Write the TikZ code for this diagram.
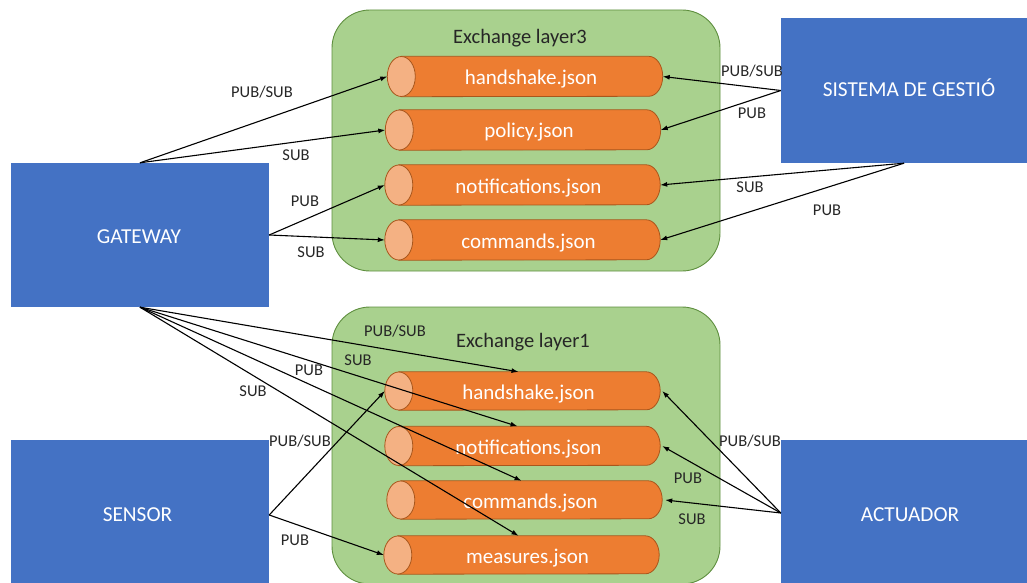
\documentclass[tikz,border=0pt]{standalone}
\usepackage{fontspec}
\setmainfont{Carlito}
\usetikzlibrary{arrows.meta}
\definecolor{boxblue}{HTML}{4472C4}
\definecolor{layergreen}{HTML}{A9D18E}
\definecolor{layeredge}{HTML}{5E8E3E}
\definecolor{topicbody}{HTML}{ED7D31}
\definecolor{topicend}{HTML}{F4B183}
\definecolor{topicedge}{HTML}{A8561C}
\definecolor{labelgray}{HTML}{262626}
\tikzset{
  actor/.style={rectangle, fill=boxblue, draw=none, inner sep=0pt},
  actortext/.style={anchor=base, inner sep=0pt, text=white, font=\fontsize{21.3}{25}\selectfont},
  layer/.style={rectangle, rounded corners=38pt, fill=layergreen, draw=layeredge,
    line width=0.9pt, inner sep=0pt},
  layertitle/.style={anchor=base, inner sep=0pt, font=\fontsize{20.5}{24}\selectfont, text=black!85},
  topicbox/.style={rectangle, minimum width=275pt, inner sep=0pt, draw=none},
  topicline/.style={draw=topicedge, line width=0.8pt},
  topictext/.style={anchor=base, text=white, inner sep=0pt, font=\fontsize{21}{24}\selectfont},
  link/.style={draw=black, line width=1.1pt, -{Latex[length=7pt,width=5pt]}},
  tag/.style={font=\fontsize{16.5}{18}\selectfont, text=labelgray, inner sep=0pt}
}
% a horizontal topic cylinder: name, centre, height, caption
\newcommand\topiccyl[4]{%
  \node[topicbox, minimum height=#3pt] (#1) at (#2) {};
  \fill[topicbody, topicline] ([xshift=14pt]#1.north west) -- ([xshift=-14pt]#1.north east)
     arc[start angle=90, end angle=-90, x radius=14pt, y radius=#3pt/2]
     -- ([xshift=14pt]#1.south west) -- cycle;
  \filldraw[fill=topicend, topicline] ([xshift=14pt]#1.west) ellipse[x radius=14pt, y radius=#3pt/2];
  \node[topictext] (#1-name) at ([xshift=6pt, yshift=-8pt]#1.center) {#4};
}
\begin{document}
\begin{tikzpicture}[x=1pt,y=-1pt]
\useasboundingbox (0,0) rectangle (1027,583);

% exchange layers
\node[layer, minimum width=388pt, minimum height=261pt] (L3) at (526,140.5) {};
\node[layer, minimum width=388pt, minimum height=277pt] (L1) at (526,445.5) {};
\node[layertitle] (L3t) at (520,43.3) {Exchange layer3};
\node[layertitle] (L1t) at (523,347.3) {Exchange layer1};

% topics of layer 3
\topiccyl{hs3}{525,76.5}{40}{handshake.json}
\topiccyl{po3}{523,130}{40}{policy.json}
\topiccyl{no3}{522.5,185}{40}{notifications.json}
\topiccyl{co3}{522.5,240}{40}{commands.json}

% topics of layer 1
\topiccyl{hs1}{522.5,391}{38}{handshake.json}
\topiccyl{no1}{522.5,446}{39}{notifications.json}
\topiccyl{cm1}{524.5,500}{38}{commands.json}
\topiccyl{me1}{521.5,555}{38}{measures.json}

% actors
\node[actor, minimum width=258pt, minimum height=144pt] (gw) at (140,235) {};
\node[actor, minimum width=246pt, minimum height=145pt] (sg) at (904,90.5) {};
\node[actor, minimum width=258pt, minimum height=150pt] (sn) at (140,515) {};
\node[actor, minimum width=246pt, minimum height=146pt] (ac) at (904,513) {};
\node[actortext] (gw-name) at (139,243.3) {GATEWAY};
\node[actortext] (sg-name) at (909,96.7) {SISTEMA DE GESTIÓ};
\node[actortext] (sn-name) at (137.5,521.7) {SENSOR};
\node[actortext] (ac-name) at (910,521.7) {ACTUADOR};

% gateway <-> layer 3
\draw[link] (gw.north) -- (hs3.west);
\draw[link] (gw.north) -- (po3.west);
\draw[link] (gw.east) -- (no3.west);
\draw[link] (gw.east) -- (co3.west);
% management system <-> layer 3
\draw[link] (sg.west) -- (hs3.east);
\draw[link] (sg.west) -- (po3.east);
\draw[link] (sg.south) -- (no3.east);
\draw[link] (sg.south) -- (co3.east);
% gateway <-> layer 1
\draw[link] (gw.south) -- ([xshift=-4pt]hs1.north);
\draw[link] (gw.south) -- ([xshift=-5pt]no1.north);
\draw[link] (gw.south) -- ([xshift=-3pt]cm1.north);
\draw[link] (gw.south) -- ([xshift=-3pt]me1.north);
% sensor <-> layer 1
\draw[link] (sn.east) -- (hs1.west);
\draw[link] (sn.east) -- (me1.west);
% actuator <-> layer 1
\draw[link] (ac.west) -- ([xshift=2pt]hs1.east);
\draw[link] (ac.west) -- ([xshift=2pt]no1.east);
\draw[link] (ac.west) -- ([xshift=3pt]cm1.east);

% connector labels
\node[tag] (t1) at (262,92) {PUB/SUB};
\node[tag] (t2) at (296,155) {SUB};
\node[tag] (t3) at (305,201) {PUB};
\node[tag] (t4) at (311,252) {SUB};
\node[tag] (t5) at (752,71) {PUB/SUB};
\node[tag] (t6) at (752,113) {PUB};
\node[tag] (t7) at (750,187) {SUB};
\node[tag] (t8) at (827,210) {PUB};
\node[tag] (t9) at (395,331) {PUB/SUB};
\node[tag] (t10) at (358,360) {SUB};
\node[tag] (t11) at (309,370) {PUB};
\node[tag] (t12) at (253,391) {SUB};
\node[tag] (t13) at (300,441) {PUB/SUB};
\node[tag] (t14) at (295,540) {PUB};
\node[tag] (t15) at (750,441) {PUB/SUB};
\node[tag] (t16) at (688,478) {PUB};
\node[tag] (t17) at (692,519) {SUB};
\end{tikzpicture}
\end{document}
